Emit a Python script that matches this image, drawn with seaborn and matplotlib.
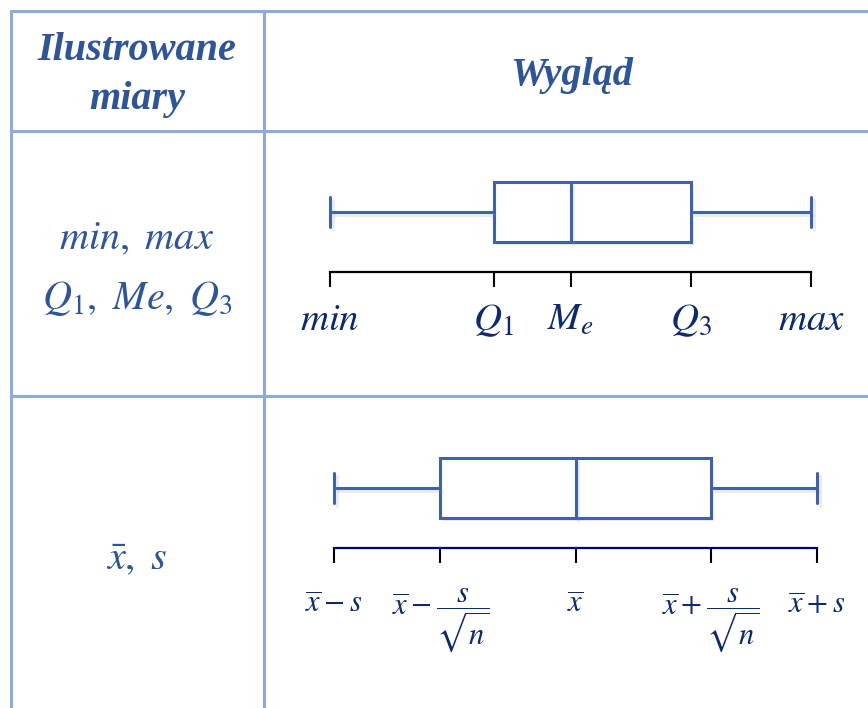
import matplotlib.pyplot as plt
import matplotlib.patheffects as pe
from matplotlib.lines import Line2D
import seaborn as sns

sns.set_style("white")
plt.rcParams['mathtext.fontset'] = 'stix'
plt.rcParams['font.family'] = ['Liberation Serif', 'DejaVu Serif']

# data: five-number summaries (in arbitrary units 0..10) and tick labels
box1_values = [0, 3.4, 5.0, 7.5, 10]
box1_labels = ['$min$', '$Q_1$', '$M_e$', '$Q_3$', '$max$']
box2_values = [0, 2.2, 5.0, 7.8, 10]
box2_labels = [r'$\overline{x} - s$', r'$\overline{x} - \dfrac{s}{\sqrt{n}}$', r'$\overline{x}$',
               r'$\overline{x} + \dfrac{s}{\sqrt{n}}$', r'$\overline{x} + s$']
header = ['Ilustrowane\nmiary', 'Wygląd']
row_names = [r'$min,\ max$' + '\n' + r'$Q_1,\ Me,\ Q_3$', r'$\bar{x},\ s$']

W, H = 868, 708
grid_c = '#8eaadb'
head_c = '#2f5597'
lab_c = '#0d2a6b'
box_c = '#3f62a8'

fig = plt.figure(figsize=(W / 100, H / 100), dpi=100)


def fx(x):
    return x / W


def fy(y):
    return 1 - y / H


# table grid
for x1, y1, x2, y2 in [(11, 11, 868, 11), (11, 131, 868, 131), (11, 396, 868, 396),
                       (11, 11, 11, 708), (264, 11, 264, 708)]:
    fig.add_artist(Line2D([fx(x1), fx(x2)], [fy(y1), fy(y2)], transform=fig.transFigure,
                          color=grid_c, lw=2.2))

fig.text(fx(137), fy(75), header[0], ha='center', va='center', fontsize=29,
         fontweight='bold', fontstyle='italic', color=head_c, linespacing=1.4)
fig.text(fx(572), fy(75), header[1], ha='center', va='center', fontsize=29,
         fontweight='bold', fontstyle='italic', color=head_c)
fig.text(fx(137), fy(270), row_names[0], ha='center', va='center', fontsize=29,
         color=head_c, linespacing=1.7)
fig.text(fx(137), fy(560), row_names[1], ha='center', va='center', fontsize=29,
         color=head_c)


def draw_box(values, labels, px_min, px_max, y_axis, axis_c, fs, pad):
    left, right = 280, 860
    ax = fig.add_axes([fx(left), fy(y_axis), (right - left) / W, 110 / H])
    sns.boxplot(x=values, ax=ax, width=0.6, color='white', linecolor=box_c,
                linewidth=2.2, whis=100, saturation=1)
    for p in ax.patches:
        p.set_path_effects([pe.SimplePatchShadow(offset=(2, -2), shadow_rgbFace='gray', alpha=0.15),
                            pe.Normal()])
    for ln in ax.lines:
        ln.set_path_effects([pe.SimpleLineShadow(offset=(2, -2), shadow_color='gray', alpha=0.15),
                             pe.Normal()])
    scale = (px_max - px_min) / (values[-1] - values[0])
    ax.set_xlim(values[0] + (left - px_min) / scale, values[0] + (right - px_min) / scale)
    ax.set_ylim(0.6, -0.5)
    for s in ['top', 'left', 'right']:
        ax.spines[s].set_visible(False)
    ax.spines['bottom'].set_bounds(values[0], values[-1])
    ax.spines['bottom'].set_color(axis_c)
    ax.spines['bottom'].set_linewidth(1.6)
    ax.set_yticks([])
    ax.set_xticks(values)
    ax.set_xticklabels(labels)
    ax.tick_params(axis='x', length=10.8, width=1.5, color='black', direction='out',
                   pad=pad, labelsize=fs, labelcolor=lab_c, bottom=True)
    plt.setp(ax.get_xticklabels(), va='baseline')
    ax.set_xlabel('')
    ax.patch.set_alpha(0)
    return ax


draw_box(box1_values, box1_labels, 330, 811, 272, 'black', 28, 31)
draw_box(box2_values, box2_labels, 334, 817, 548, '#000080', 22, 36)

fig.savefig('out.png', dpi=100)
